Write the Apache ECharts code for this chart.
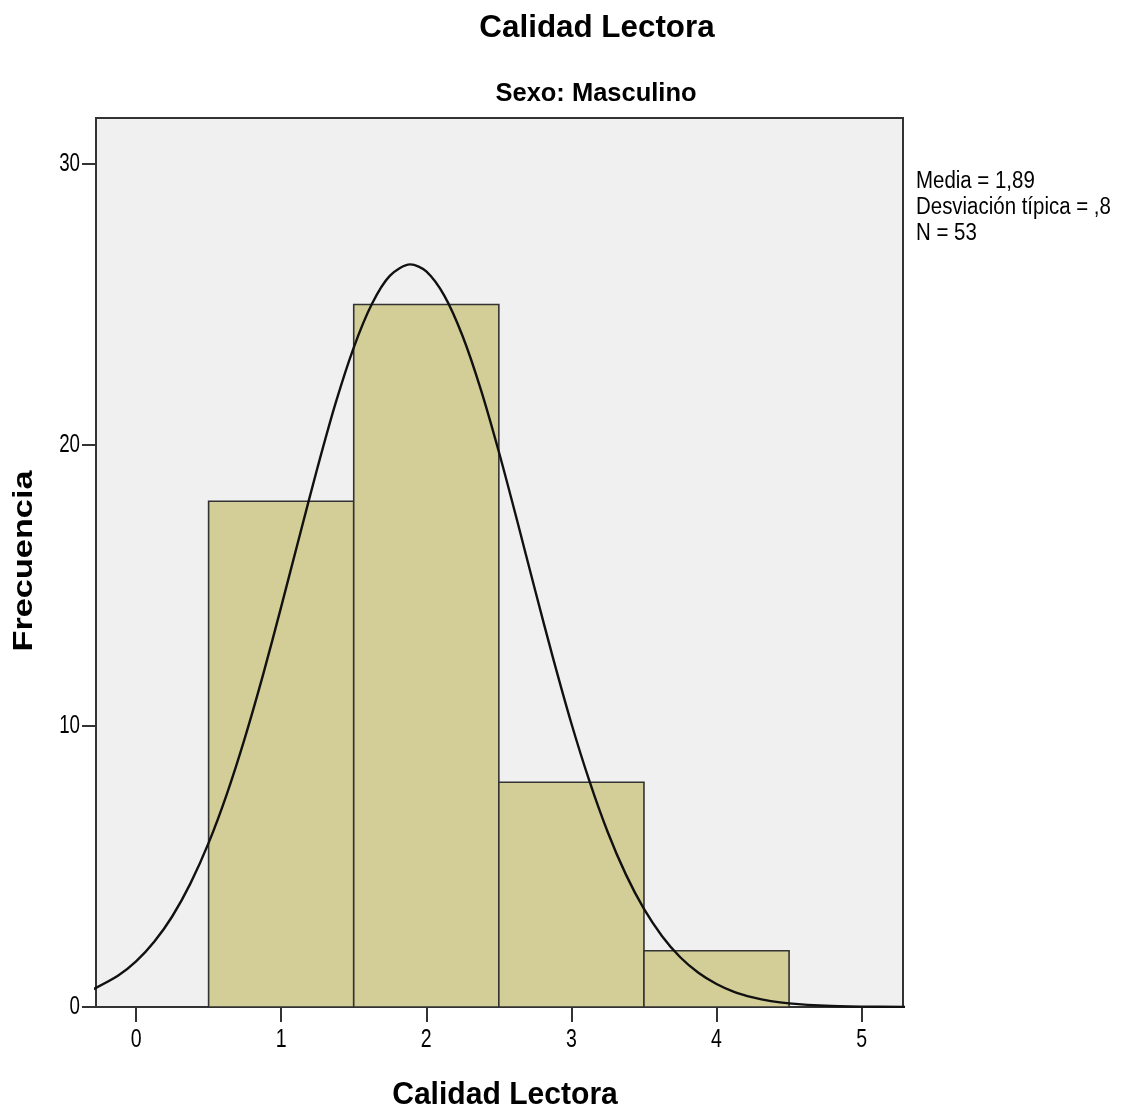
<!DOCTYPE html>
<html>
<head>
<meta charset="utf-8">
<script src="https://cdn.jsdelivr.net/npm/echarts@6/dist/echarts.min.js"></script>
<style>
html,body{margin:0;padding:0;background:#fff;}
#c{width:1121px;height:1113px;}
</style>
</head>
<body>
<div id="c"></div>
<script>
// Histogram bins: [start, end, frequency]
const binStarts = [0.5, 1.5, 2.5, 3.5];
const binEnds = [1.5, 2.5, 3.5, 4.5];
const frequencies = [18, 25, 8, 2];
// Normal curve points
const curveX = [-0.3, -0.125, 0, 0.125, 0.25, 0.375, 0.5, 0.625, 0.75, 0.875, 1.0, 1.125, 1.25, 1.375, 1.5, 1.625, 1.75, 1.89, 2.0, 2.125, 2.25, 2.375, 2.5, 2.625, 2.75, 2.875, 3.0, 3.125, 3.25, 3.375, 3.5, 3.625, 3.75, 3.875, 4.0, 4.125, 4.25, 4.375, 4.5, 4.75, 5.0, 5.3];
const curveY = [0.62, 1.11, 1.62, 2.32, 3.23, 4.40, 5.84, 7.57, 9.58, 11.82, 14.24, 16.73, 19.19, 21.49, 23.47, 25.02, 26.03, 26.43, 26.18, 25.31, 23.88, 21.99, 19.76, 17.33, 14.83, 12.39, 10.09, 8.03, 6.23, 4.72, 3.49, 2.52, 1.77, 1.22, 0.82, 0.53, 0.34, 0.21, 0.13, 0.044, 0.014, 0.003];
const xTicks = [0, 1, 2, 3, 4, 5];
const yTicks = [0, 10, 20, 30];
const statsLines = ['Media = 1,89', 'Desviación típica = ,8', 'N = 53'];
const titleText = 'Calidad Lectora';
const subtitleText = 'Sexo: Masculino';
const xName = 'Calidad Lectora';
const yName = 'Frecuencia';

const chart = echarts.init(document.getElementById('c'), null, {renderer: 'canvas'});
const FONT = '"Liberation Sans", Arial, sans-serif';

const barData = binStarts.map((s, i) => [s, binEnds[i], frequencies[i]]);
const lineData = curveX.map((x, i) => [x, curveY[i]]);

chart.setOption({
  animation: false,
  backgroundColor: '#ffffff',
  grid: {left: 96, right: 218, top: 118, bottom: 106, show: true,
         backgroundColor: '#f0f0f0', borderColor: '#333', borderWidth: 2,
         outerBoundsMode: 'none', containLabel: false},
  xAxis: {
    type: 'value', min: -0.276, max: 5.285,
    splitLine: {show: false},
    axisLine: {show: true, onZero: false, lineStyle: {color: '#333', width: 2}},
    axisTick: {show: true, customValues: xTicks, length: 15, lineStyle: {color: '#333', width: 2}},
    axisLabel: {show: false}
  },
  yAxis: {
    type: 'value', min: 0, max: 31.64,
    splitLine: {show: false},
    axisLine: {show: true, onZero: false, lineStyle: {color: '#333', width: 2}},
    axisTick: {show: true, customValues: yTicks, length: 14, lineStyle: {color: '#333', width: 2}},
    axisLabel: {show: false}
  },
  series: [
    {
      type: 'custom',
      data: barData,
      encode: {x: [0, 1], y: 2},
      renderItem: function (params, api) {
        const p0 = api.coord([api.value(0), api.value(2)]);
        const p1 = api.coord([api.value(1), 0]);
        return {
          type: 'rect',
          shape: {x: p0[0], y: p0[1], width: p1[0] - p0[0], height: p1[1] - p0[1]},
          style: {fill: '#d3ce97', stroke: '#333', lineWidth: 1.6}
        };
      },
      z: 2
    },
    {
      type: 'line',
      data: lineData,
      smooth: 0.3,
      symbol: 'none',
      clip: true,
      lineStyle: {color: '#111', width: 2.4},
      z: 3
    }
  ]
});

// Text elements (titles, axis labels) positioned through the chart's own scales
const graphics = [];
function txt(text, x, y, size, weight, sx, align, extra) {
  return Object.assign({
    type: 'text', x: x, y: y, scaleX: sx, silent: true,
    style: {text: text, font: weight + ' ' + size + 'px ' + FONT, fill: '#000',
            align: align, verticalAlign: 'middle'}
  }, extra || {});
}
graphics.push(txt(titleText, 597, 28, 32, 'bold', 0.98, 'center'));
graphics.push(txt(subtitleText, 596, 94, 26, 'bold', 0.98, 'center'));
statsLines.forEach((s, i) => {
  graphics.push(txt(s, 916, 182 + i * 26, 23.5, 'normal', 0.87, 'left'));
});
xTicks.forEach(v => {
  const p = chart.convertToPixel({gridIndex: 0}, [v, 0]);
  graphics.push(txt(String(v), p[0], 1040, 25, 'normal', 0.78, 'center'));
});
yTicks.forEach(v => {
  const p = chart.convertToPixel({gridIndex: 0}, [0, v]);
  graphics.push(txt(String(v), 80, p[1], 25, 'normal', 0.75, 'right'));
});
graphics.push(txt(xName, 505, 1095, 32, 'bold', 0.94, 'center'));
graphics.push(txt(yName, 25, 561, 27, 'bold', 1.27, 'center', {rotation: Math.PI / 2}));
chart.setOption({graphic: graphics});
</script>
</body>
</html>
